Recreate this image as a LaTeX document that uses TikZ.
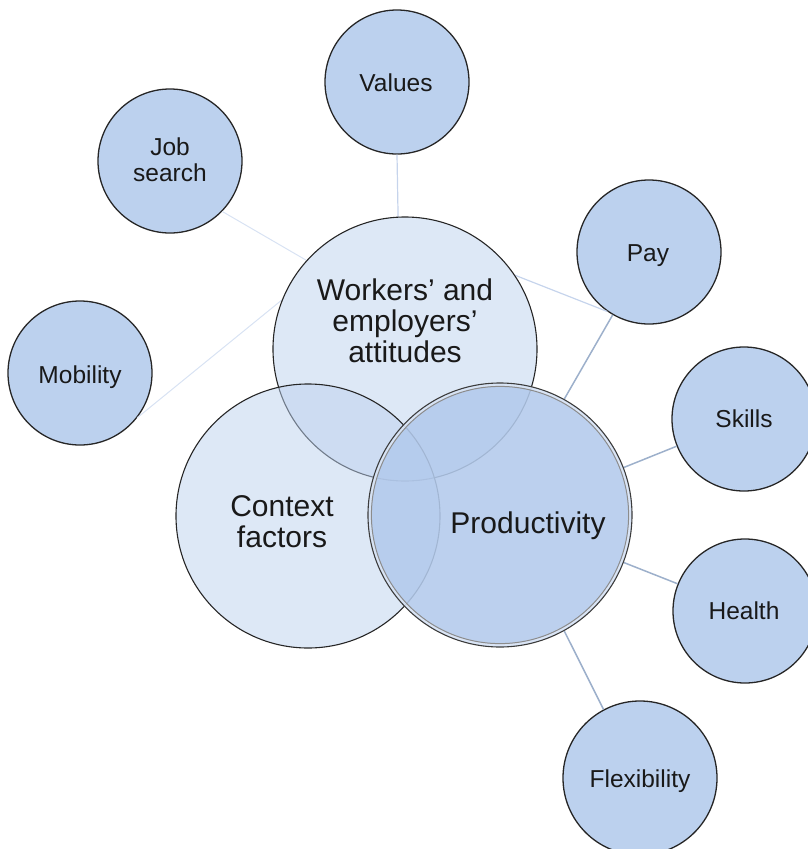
\documentclass[tikz,border=0pt]{standalone}
\usepackage{fontspec}
\setmainfont{Liberation Sans}
\definecolor{smallblue}{HTML}{BCD1EE}
\definecolor{softblue}{HTML}{BCD1EE}
\definecolor{prodblue}{HTML}{B3CAEC}
\definecolor{faintline}{HTML}{D8E2F3}
\definecolor{lightline}{HTML}{C6D4EC}
\definecolor{linkline}{HTML}{9DB0CB}
\definecolor{rim}{HTML}{262626}
\begin{document}
\begin{tikzpicture}[x=1pt,y=-1pt,
  bubble/.style={circle, draw=rim, line width=1.3pt, fill=smallblue, minimum size=144pt, inner sep=0pt},
  core/.style={circle, draw=rim, line width=1.1pt, fill=softblue, fill opacity=0.5, minimum size=264pt, inner sep=0pt},
  prodcore/.style={circle, fill=prodblue, fill opacity=0.88, minimum size=264pt, inner sep=0pt},
  smalltext/.style={font=\fontsize{24.5}{26}\selectfont, align=center, inner sep=0pt, text=black!90},
  bigtext/.style={font=\fontsize{30}{31}\selectfont, align=center, inner sep=0pt, text=black!90},
  faint/.style={draw=faintline, line width=1pt},
  light/.style={draw=lightline, line width=1.2pt},
  link/.style={draw=linkline, line width=1.5pt},
]
\useasboundingbox (0,0) rectangle (808,849);

% outer topic bubbles
\node[bubble] (val)  at (397,82)  {};
\node[bubble] (job)  at (170,161) {};
\node[bubble] (pay)  at (649,252) {};
\node[bubble] (mob)  at (80,373)  {};
\node[bubble] (skl)  at (744,419) {};
\node[bubble] (hlt)  at (745,611) {};
\node[bubble, minimum size=154pt] (flx) at (640,778) {};

% central circles (positions only, drawn after the connectors)
\path (405,349) coordinate (wc) (308,516) coordinate (cc) (500,515) coordinate (pc);
\node[circle, minimum size=264pt, inner sep=0pt] (work) at (wc) {};
\node[circle, minimum size=264pt, inner sep=0pt] (prod) at (pc) {};

% connectors
\draw[light] (val.-90) -- (work.93.5);
\draw[faint] (job.-44) -- (work.138);
\draw[faint] (mob.-38) -- (work.158);
\draw[light] (pay.235) -- (work.34);
\draw[link]  (pay.240) -- (prod.61);
\draw[link]  (skl.202) -- (prod.21);
\draw[link]  (hlt.158) -- (prod.-21);
\draw[link]  (flx.118) -- (prod.-61);

% overlapping core circles
\node[core] (workfill) at (wc) {};
\node[core] (ctxfill)  at (cc) {};
\node[prodcore] (prodfill) at (pc) {};
\draw[line width=3pt, white, opacity=0.45] (prodfill.center) circle[radius=130.3pt];
\draw[rim!90, line width=1.1pt] (prodfill.center) circle[radius=132pt];
\draw[black!45, line width=1pt] (prodfill.center) circle[radius=128.6pt];

% labels
\node[bigtext] (worktxt) at (405,321) {Workers’ and\\employers’\\attitudes};
\node[bigtext] (ctxtxt)  at (282,522) {Context\\factors};
\node[bigtext, anchor=base] (prodtxt) at (528,533) {Productivity};

\node[smalltext, anchor=base] (valtxt) at (396,91)  {Values};
\node[smalltext] (jobtxt) at (170,160) {Job\\search};
\node[smalltext, anchor=base] (paytxt) at (648,261) {Pay};
\node[smalltext, anchor=base] (mobtxt) at (80,383)  {Mobility};
\node[smalltext, anchor=base] (skltxt) at (744,427) {Skills};
\node[smalltext, anchor=base] (hlttxt) at (744,619) {Health};
\node[smalltext, anchor=base] (flxtxt) at (640,787) {Flexibility};
\end{tikzpicture}
\end{document}
